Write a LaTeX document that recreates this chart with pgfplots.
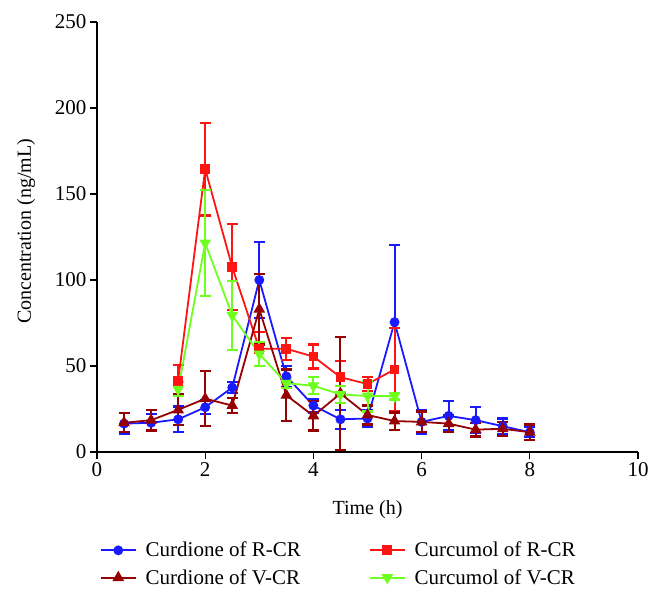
\documentclass[border=0pt]{standalone}
\usepackage{fontspec}
\setmainfont{Liberation Serif}
\usepackage{pgfplots}
\usepackage{pgfplotstable}
\pgfplotsset{compat=1.18}
\definecolor{cblue}{RGB}{26,26,255}
\definecolor{cred}{RGB}{255,20,20}
\definecolor{cdred}{RGB}{150,0,0}
\definecolor{cgreen}{RGB}{110,255,30}

\pgfplotstableread{
x y e
0.5 16.5 6
1 17 5
1.5 19 7.5
2 26 4
2.5 37.5 3
3 100 22
3.5 44 6
4 27 4
4.5 19 5.5
5 19.5 5
5.5 75.5 45
6 17.5 7
6.5 21 8.5
7 18.5 7.5
7.5 15 4.5
8 11.5 3
}\curdR
\pgfplotstableread{
x y e
0.5 17 5.5
1 18.5 6
1.5 24.5 9
2 31 16
2.5 27 4.5
3 83 20.5
3.5 33 15
4 21 8.5
4.5 34 33
5 21.5 5.5
5.5 18 5
6 17.5 6
6.5 16.5 5
7 13 4
7.5 13.5 4
8 11.5 4.5
}\curdV
\pgfplotstableread{
x y e
1.5 41.5 9
2 164.5 27
2.5 107.5 25
3 60 10
3.5 60 6.5
4 55.5 7
4.5 43.5 9.5
5 39.5 4
5.5 48 24
}\curcR
\pgfplotstableread{
x y e
1.5 36.5 4
2 121.5 31
2.5 79.5 20
3 57 7
3.5 40 3
4 38.5 5
4.5 33.5 5
5 32.5 9
5.5 32.5 2
}\curcV

\begin{document}
\begin{tikzpicture}
\useasboundingbox (-97bp,-146bp) rectangle (565bp,452bp);
\begin{axis}[
  at={(0,0)}, anchor=south west,
  width=541bp, height=430bp, scale only axis,
  xmin=0, xmax=10, ymin=0, ymax=250,
  xtick={0,2,...,10}, ytick={0,50,...,250},
  axis lines=left,
  axis line style={-, line width=1.2bp, black},
  tick align=outside,
  major tick length=7bp,
  tick style={line width=1.2bp, black},
  /pgf/number format/assume math mode=true,
  tick label style={font=\fontsize{21bp}{24bp}\selectfont},
  label style={font=\fontsize{20bp}{24bp}\selectfont},
  xlabel={Time (h)},
  ylabel={Concentration (ng/mL)},
  xlabel style={at={(axis description cs:0.5,-0.135)}, anchor=center},
  ylabel style={at={(axis description cs:-0.131,0.513)}, anchor=center},
  clip=false,
  legend columns=2,
  legend cell align=left,
  legend style={at={(0.005,-0.207)}, anchor=north west, draw=none, fill=none,
    font=\fontsize{21bp}{25bp}\selectfont,
    /tikz/every even column/.append style={column sep=59bp},
    row sep=9bp, inner sep=0pt,
    nodes={inner xsep=9bp, inner ysep=1bp}},
  legend image code/.code={\draw[mark repeat=2,mark phase=2,#1] plot coordinates {(0bp,0bp)(17.5bp,0bp)(35bp,0bp)};},
  every axis plot/.append style={line width=1.8bp},
  error bars/y dir=both,
  error bars/y explicit,
  error bars/error bar style={line width=2bp},
  error bars/error mark options={rotate=90, mark size=5.5bp, line width=2.2bp},
]
\addplot[color=cblue, mark=*, mark size=4bp, mark options={solid}] table[x=x, y=y, y error=e] {\curdR};
\addlegendentry{Curdione of R-CR}
\addplot[color=cred, mark=square*, mark size=4bp] table[x=x, y=y, y error=e] {\curcR};
\addlegendentry{Curcumol of R-CR}
\addplot[color=cdred, mark=triangle*, mark size=5bp] table[x=x, y=y, y error=e] {\curdV};
\addlegendentry{Curdione of V-CR}
\addplot[color=cgreen, mark=triangle*, mark size=5bp, mark options={rotate=180}] table[x=x, y=y, y error=e] {\curcV};
\addlegendentry{Curcumol of V-CR}
\end{axis}
\end{tikzpicture}
\end{document}
